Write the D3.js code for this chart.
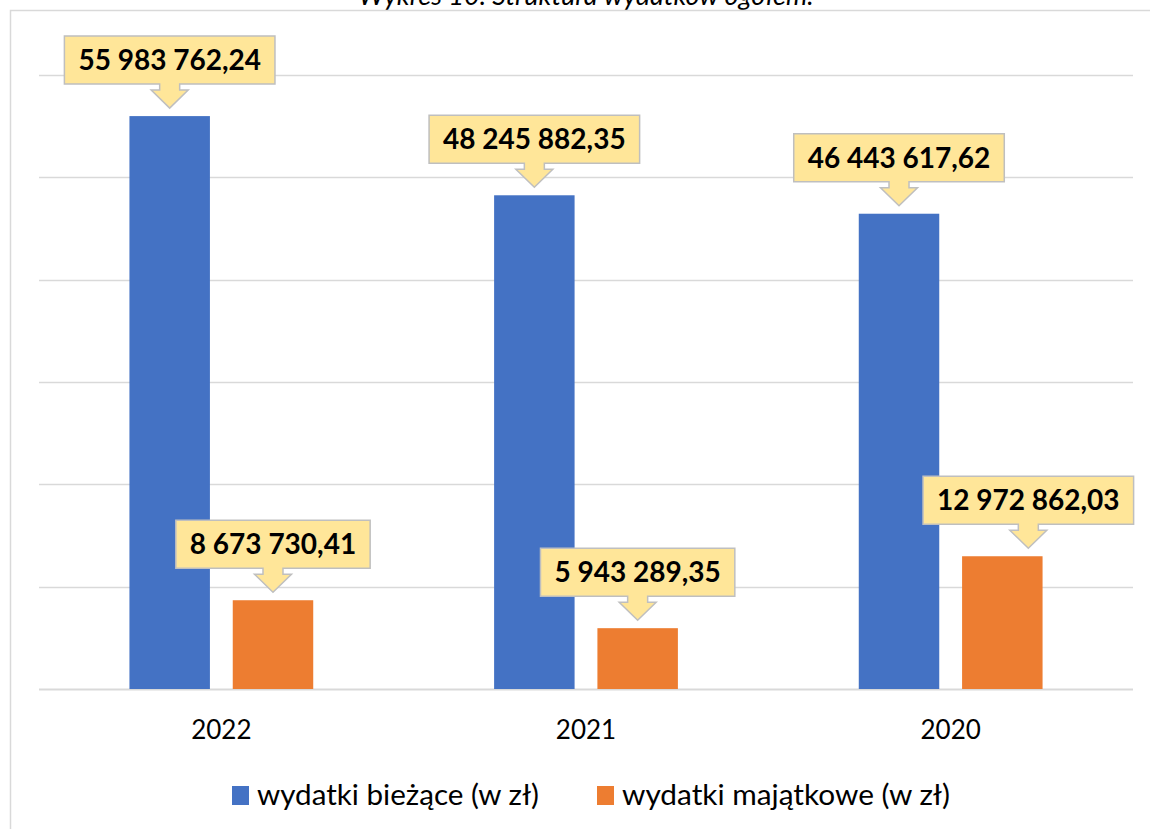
<!DOCTYPE html>
<html>
<head>
<meta charset="utf-8">
<script src="https://cdn.jsdelivr.net/npm/d3@7"></script>
<style>
  body { margin: 0; background: #fff; }
  svg { display: block; }
</style>
</head>
<body>
<div id="chart"></div>
<script>
// Dimensions
const width = 1150;
const height = 829;

// Data
const years = ['2022', '2021', '2020'];
const seriesNames = ['wydatki bieżące (w zł)', 'wydatki majątkowe (w zł)'];
const biezace = [55983762.24, 48245882.35, 46443617.62];
const majatkowe = [8673730.41, 5943289.35, 12972862.03];
const yTicks = [0, 10e6, 20e6, 30e6, 40e6, 50e6, 60e6];
const titleText = 'Wykres 10. Struktura wydatków ogółem.';

const colours = ['#4472C4', '#ED7D31'];
const fontFamily = 'Lato, "Open Sans", sans-serif';

// Label format: space thousands, comma decimals
const formatValue = v => {
    const [intPart, dec] = v.toFixed(2).split('.');
    return intPart.replace(/\B(?=(\d{3})+(?!\d))/g, ' ') + ',' + dec;
};

const svg = d3.select('#chart').append('svg')
    .attr('width', width)
    .attr('height', height);

// Title (cut off at the top edge, as in the source)
svg.append('text')
    .attr('x', 586)
    .attr('y', 5)
    .attr('text-anchor', 'middle')
    .style('font-family', fontFamily)
    .style('font-style', 'italic')
    .style('font-size', '27px')
    .attr('fill', '#000')
    .text(titleText);

// Chart frame
svg.append('rect')
    .attr('x', 10.5)
    .attr('y', 10.5)
    .attr('width', 1160)
    .attr('height', 840)
    .attr('fill', 'none')
    .attr('stroke', '#d9d9d9')
    .attr('stroke-width', 1.5);

// Scales
const x = d3.scaleBand()
    .domain(years)
    .range([39, 1133])
    .paddingInner(0.496)
    .paddingOuter(0.248);

const xSub = d3.scaleBand()
    .domain([0, 1])
    .range([0, x.bandwidth()])
    .paddingInner(0.221);

const y = d3.scaleLinear()
    .domain([0, 60e6])
    .range([689, 75]);

// Gridlines
svg.append('g')
    .selectAll('line')
    .data(yTicks)
    .enter()
    .append('line')
    .attr('x1', 39)
    .attr('x2', 1133)
    .attr('y1', d => Math.round(y(d)) + 0.5)
    .attr('y2', d => Math.round(y(d)) + 0.5)
    .attr('stroke', '#d9d9d9')
    .attr('stroke-width', d => d === 0 ? 2 : 1.5);

// Bars
const rows = [];
years.forEach((yr, i) => {
    rows.push({ year: yr, s: 0, value: biezace[i] });
    rows.push({ year: yr, s: 1, value: majatkowe[i] });
});

svg.append('g')
    .selectAll('rect')
    .data(rows)
    .enter()
    .append('rect')
    .attr('x', d => x(d.year) + xSub(d.s))
    .attr('y', d => y(d.value))
    .attr('width', xSub.bandwidth())
    .attr('height', d => y(0) - y(d.value))
    .attr('fill', d => colours[d.s]);

// Callout offsets (the 2020 capital label was nudged right)
const labelDx = { '2020-1': 26 };

// Data labels with down arrow callouts
const labels = svg.append('g');
rows.forEach(d => {
    const cx = x(d.year) + xSub(d.s) + xSub.bandwidth() / 2 + (labelDx[d.year + '-' + d.s] || 0);
    const top = y(d.value);
    const boxBottom = top - 32;
    const boxH = 48;
    const g = labels.append('g');
    const shape = g.append('path');
    const txt = g.append('text')
        .attr('x', cx)
        .attr('y', boxBottom - boxH / 2 + 10)
        .attr('text-anchor', 'middle')
        .style('font-family', fontFamily)
        .style('font-weight', 'bold')
        .style('font-size', '28px')
        .attr('fill', '#000')
        .text(formatValue(d.value));
    const tw = txt.node().getComputedTextLength();
    const halfW = tw / 2 + 14;
    const bx0 = cx - halfW, bx1 = cx + halfW;
    const by0 = boxBottom - boxH, by1 = boxBottom;
    const stem = 10, head = 18.5;
    const headTop = by1 + 6, tip = top - 8;
    const p = d3.path();
    p.moveTo(bx0, by0);
    p.lineTo(bx1, by0);
    p.lineTo(bx1, by1);
    p.lineTo(cx + stem, by1);
    p.lineTo(cx + stem, headTop);
    p.lineTo(cx + head, headTop);
    p.lineTo(cx, tip);
    p.lineTo(cx - head, headTop);
    p.lineTo(cx - stem, headTop);
    p.lineTo(cx - stem, by1);
    p.lineTo(bx0, by1);
    p.closePath();
    shape.attr('d', p.toString())
        .attr('fill', '#FFE699')
        .attr('stroke', '#BFBFBF')
        .attr('stroke-width', 1.5);
});

// X axis labels
svg.append('g')
    .selectAll('text')
    .data(years)
    .enter()
    .append('text')
    .attr('x', d => x(d) + x.bandwidth() / 2)
    .attr('y', 739)
    .attr('text-anchor', 'middle')
    .style('font-family', fontFamily)
    .style('font-size', '26px')
    .attr('fill', '#000')
    .text(d => d);

// Legend
const legendX = [232, 597];
const legendTextW = [282, 328];
const legend = svg.append('g');
seriesNames.forEach((name, i) => {
    legend.append('rect')
        .attr('x', legendX[i])
        .attr('y', 786)
        .attr('width', 17)
        .attr('height', 19)
        .attr('fill', colours[i]);
    legend.append('text')
        .attr('x', legendX[i] + 25)
        .attr('y', 805)
        .attr('textLength', legendTextW[i])
        .attr('lengthAdjust', 'spacingAndGlyphs')
        .style('font-family', fontFamily)
        .style('font-size', '29px')
        .attr('fill', '#000')
        .text(name);
});
</script>
</body>
</html>
